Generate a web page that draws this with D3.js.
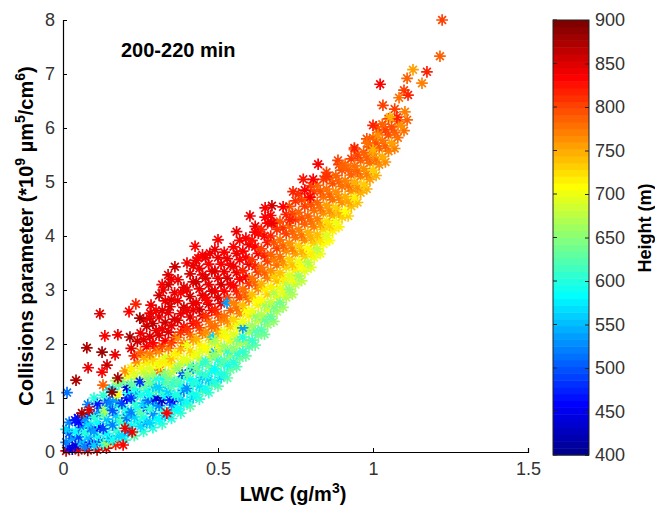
<!DOCTYPE html>
<html>
<head>
<meta charset="utf-8">
<script src="https://cdn.jsdelivr.net/npm/d3@7"></script>
<style>
  body { margin: 0; background: #fff; }
  text { font-family: "Liberation Sans", Arial, sans-serif; }
</style>
</head>
<body>
<div id="viz"></div>
<script>
const width = 655;
const height = 519;
const margin = {top: 20, right: 127, bottom: 67, left: 63};

const xTicks = [0, 0.5, 1, 1.5];
const yTicks = [0, 1, 2, 3, 4, 5, 6, 7, 8];
const heightTicks = [400, 450, 500, 550, 600, 650, 700, 750, 800, 850, 900];
const title = '200-220 min';

// [LWC (g/m3), collisions parameter, height (m)]
const nearOrigin = [
  [0.01,0.02,860],[0.02,0.08,470],[0.01,0.18,520],[0.03,0.25,540],[0.02,0.35,500],[0.01,0.42,560],[0.03,0.05,440],[0.02,0.55,520],
  [0.05,0.03,850],[0.04,0.12,440],[0.06,0.18,560],[0.05,0.28,490],[0.04,0.38,580],[0.06,0.45,520],[0.05,0.55,460],[0.048,0.63,440],[0.039,0.59,470],
  [0.08,0.03,860],[0.07,0.10,520],[0.09,0.18,470],[0.08,0.27,550],[0.07,0.36,600],[0.09,0.44,510],[0.08,0.52,570],[0.07,0.62,530],[0.09,0.70,480],[0.08,0.88,520],
  [0.11,0.04,850],[0.10,0.12,560],[0.12,0.20,500],[0.11,0.30,590],[0.10,0.38,540],[0.12,0.46,460],[0.11,0.55,580],[0.10,0.64,610],[0.12,0.72,530],[0.119,0.81,520],[0.11,0.90,470],[0.10,1.00,600],
  [0.14,0.07,860],[0.13,0.15,600],[0.142,0.17,650],[0.15,0.25,540],[0.14,0.34,580],[0.13,0.43,490],[0.15,0.52,600],[0.14,0.61,550],[0.13,0.70,620],[0.135,0.78,670],[0.15,0.85,560],[0.14,0.95,500],[0.152,0.93,520],[0.13,1.05,610],[0.15,1.15,580]
];

const lowBand = [
  [0.17,0.14,820],[0.16,0.22,590],[0.18,0.30,560],[0.17,0.40,610],[0.16,0.50,520],[0.18,0.58,590],[0.17,0.68,560],[0.16,0.77,500],[0.18,0.86,600],[0.17,0.96,540],[0.177,1.06,700],[0.16,1.16,560],[0.18,1.25,620],[0.17,1.32,660],
  [0.20,0.22,600],[0.19,0.30,570],[0.21,0.38,540],[0.20,0.52,590],[0.19,0.60,620],[0.206,0.63,510],[0.21,0.72,560],[0.20,0.80,600],[0.19,0.90,490],[0.206,1.00,450],[0.21,1.10,580],[0.206,1.20,440],[0.19,1.30,640],[0.21,1.40,700],[0.20,1.50,760],
  [0.23,0.30,620],[0.22,0.48,580],[0.24,0.56,600],[0.23,0.65,560],[0.22,0.74,520],[0.24,0.82,590],[0.23,0.91,610],[0.22,1.00,480],[0.24,1.08,540],[0.23,1.17,600],[0.22,1.26,630],[0.24,1.35,660],[0.23,1.45,690],[0.22,1.55,720],[0.24,1.65,760],[0.23,1.78,820],[0.22,1.92,850],[0.24,2.05,860],
  [0.26,0.38,610],[0.25,0.47,570],[0.27,0.55,540],[0.26,0.64,590],[0.25,0.73,620],[0.27,0.82,500],[0.26,0.90,560],[0.274,0.96,510],[0.25,1.05,600],[0.27,1.14,580],[0.26,1.22,630],[0.248,1.30,480],[0.27,1.38,650],[0.26,1.47,680],[0.25,1.56,700],[0.27,1.65,720],[0.26,1.75,750],[0.25,1.85,790],[0.27,1.95,830],[0.26,2.08,850],[0.25,2.20,840],[0.27,2.33,860],[0.26,2.45,845],
  [0.29,0.45,600],[0.28,0.54,560],[0.30,0.62,590],[0.29,0.71,530],[0.28,0.80,610],[0.30,0.88,570],[0.29,0.97,500],[0.30,1.00,440],[0.28,1.06,590],[0.30,1.14,620],[0.29,1.22,560],[0.281,1.28,640],[0.30,1.36,600],[0.29,1.45,660],[0.28,1.54,690],[0.30,1.62,710],[0.29,1.72,730],[0.28,1.82,770],[0.30,1.92,800],[0.29,2.02,830],[0.28,2.14,850],[0.30,2.25,840],[0.29,2.38,865],[0.28,2.48,850],[0.30,2.62,835],
  [0.32,0.52,610],[0.31,0.60,580],[0.33,0.68,550],[0.32,0.77,600],[0.31,0.86,520],[0.319,0.96,430],[0.33,1.04,580],[0.32,1.12,610],[0.31,1.20,560],[0.33,1.28,620],[0.32,1.37,590],[0.313,1.52,780],[0.33,1.46,650],[0.31,1.60,700],[0.32,1.68,720],[0.33,1.76,690],[0.31,1.86,760],[0.32,1.96,800],[0.33,2.06,830],[0.31,2.16,850],[0.32,2.28,840],[0.33,2.40,860],[0.31,2.50,845],[0.32,2.62,850],[0.33,2.80,840],[0.31,2.90,855],[0.32,3.10,835],
  [0.35,0.62,600],[0.34,0.70,570],[0.36,0.78,610],[0.35,0.87,540],[0.345,0.96,480],[0.36,0.98,450],[0.36,1.05,590],[0.34,1.13,560],[0.35,1.21,620],[0.36,1.30,600],[0.34,1.38,640],[0.35,1.47,670],[0.36,1.56,700],[0.34,1.64,720],[0.35,1.73,740],[0.36,1.82,710],[0.34,1.92,770],[0.35,2.02,800],[0.36,2.12,820],[0.34,2.22,850],[0.35,2.34,840],[0.36,2.46,860],[0.34,2.58,845],[0.35,2.82,850],[0.36,2.95,840],[0.34,3.10,855],[0.35,3.20,845],
  [0.38,0.72,610],[0.37,0.80,580],[0.39,0.88,600],[0.38,0.97,550],[0.37,1.06,600],[0.39,1.14,520],[0.38,1.22,590],[0.368,1.30,620],[0.39,1.38,610],[0.384,1.46,500],[0.37,1.55,650],[0.38,1.64,680],[0.39,1.72,700],[0.37,1.82,720],[0.38,1.92,750],[0.39,2.02,780],[0.37,2.12,760],[0.38,2.22,810],[0.39,2.32,830],[0.37,2.44,850],[0.38,2.56,840],[0.39,2.68,860],[0.37,2.80,845],[0.38,2.95,835],[0.39,3.05,850],
  [0.41,0.85,620],[0.40,0.93,590],[0.42,1.01,560],[0.41,1.10,600],[0.40,1.18,530],[0.42,1.26,610],[0.41,1.35,580],[0.40,1.44,630],[0.42,1.52,660],[0.42,1.55,520],[0.41,1.61,620],[0.40,1.70,690],[0.42,1.79,710],[0.41,1.88,730],[0.40,1.98,700],[0.42,2.08,760],[0.41,2.18,790],[0.40,2.28,810],[0.42,2.38,830],[0.41,2.50,850],[0.40,2.62,840],[0.42,2.75,850],[0.41,2.88,860],[0.40,3.00,845],[0.42,3.15,840],[0.41,3.30,850],[0.42,3.45,845],
  [0.44,0.98,610],[0.43,1.06,590],[0.45,1.14,620],[0.44,1.22,570],[0.43,1.30,600],[0.45,1.38,550],[0.44,1.47,610],[0.43,1.56,640],[0.45,1.64,600],[0.44,1.73,670],[0.43,1.82,700],[0.45,1.90,690],[0.44,2.00,720],[0.43,2.10,750],[0.45,2.20,780],[0.44,2.30,800],[0.43,2.40,820],[0.45,2.52,840],[0.44,2.64,855],[0.43,2.76,845],[0.45,2.90,850],[0.44,3.02,840],[0.43,3.15,855],[0.45,3.28,845],[0.44,3.40,840],[0.43,3.55,850],[0.45,3.65,835]
];

const midBand = [
  [0.47,1.10,610],[0.46,1.18,590],[0.48,1.26,620],[0.47,1.34,560],[0.46,1.42,610],[0.48,1.50,580],[0.47,1.59,640],[0.46,1.68,610],[0.48,1.76,660],[0.47,1.85,690],[0.49,1.85,550],[0.46,1.94,710],[0.48,2.03,680],[0.47,2.12,730],[0.484,2.13,560],[0.46,2.22,760],[0.48,2.32,790],[0.47,2.42,780],[0.46,2.52,810],[0.48,2.62,830],[0.47,2.74,850],[0.46,2.86,840],[0.48,2.98,855],[0.47,3.10,845],[0.46,3.22,850],[0.48,3.35,840],[0.47,3.48,835],[0.46,3.60,845],
  [0.50,1.22,620],[0.49,1.30,600],[0.51,1.38,570],[0.50,1.46,610],[0.49,1.54,580],[0.51,1.62,630],[0.50,1.71,600],[0.49,1.80,650],[0.51,1.88,680],[0.50,1.97,700],[0.49,2.06,670],[0.51,2.15,720],[0.50,2.24,750],[0.49,2.34,780],[0.51,2.44,770],[0.50,2.54,800],[0.49,2.64,820],[0.51,2.75,840],[0.50,2.86,850],[0.49,2.98,845],[0.51,3.10,855],[0.50,3.22,840],[0.49,3.35,850],[0.51,3.48,835],[0.50,3.60,845],[0.49,3.75,840],
  [0.53,1.37,620],[0.52,1.45,600],[0.54,1.53,630],[0.53,1.62,590],[0.52,1.70,620],[0.54,1.78,650],[0.53,1.87,610],[0.52,1.96,660],[0.54,2.05,690],[0.53,2.14,710],[0.52,2.23,700],[0.54,2.32,730],[0.53,2.42,760],[0.52,2.52,780],[0.54,2.62,790],[0.53,2.86,800],[0.529,2.76,540],[0.52,2.98,830],[0.54,3.10,840],[0.53,3.22,850],[0.52,3.34,840],[0.54,3.46,830],[0.53,3.58,845],[0.52,3.70,835],
  [0.56,1.58,620],[0.55,1.66,600],[0.57,1.74,630],[0.56,1.83,610],[0.55,1.92,650],[0.57,2.00,670],[0.56,2.09,640],[0.55,2.18,690],[0.57,2.27,710],[0.56,2.36,700],[0.55,2.46,730],[0.57,2.56,760],[0.56,2.66,780],[0.55,2.76,770],[0.57,2.86,800],[0.56,2.97,820],[0.55,3.08,835],[0.57,3.20,830],[0.56,3.32,845],[0.55,3.44,840],[0.57,3.56,835],[0.56,3.68,840],[0.55,3.80,830],[0.57,3.92,835],[0.56,4.08,840],
  [0.59,1.78,630],[0.58,1.86,610],[0.60,1.95,620],[0.59,2.04,650],[0.58,2.13,600],[0.60,2.22,660],[0.59,2.32,680],[0.58,2.30,540],[0.58,2.42,700],[0.60,2.52,720],[0.59,2.62,710],[0.58,2.72,740],[0.60,2.82,770],[0.59,2.92,790],[0.58,3.02,780],[0.60,3.12,810],[0.59,3.24,830],[0.58,3.36,820],[0.60,3.48,840],[0.59,3.60,835],[0.58,3.72,830],[0.60,3.84,840],[0.59,3.96,835],
  [0.62,1.98,630],[0.61,2.07,610],[0.63,2.16,640],[0.62,2.25,620],[0.61,2.34,660],[0.63,2.43,680],[0.62,2.52,650],[0.61,2.62,700],[0.63,2.72,720],[0.62,2.82,710],[0.61,2.92,740],[0.63,3.02,760],[0.62,3.12,790],[0.61,3.22,780],[0.63,3.33,800],[0.62,3.44,820],[0.61,3.56,810],[0.63,3.68,830],[0.62,3.80,835],[0.61,3.92,825],[0.63,4.05,830],[0.62,4.18,840],
  [0.65,2.18,640],[0.64,2.27,620],[0.66,2.36,650],[0.65,2.45,630],[0.64,2.54,670],[0.66,2.63,690],[0.65,2.72,660],[0.64,2.82,710],[0.66,2.92,730],[0.65,3.02,720],[0.64,3.12,750],[0.66,3.22,770],[0.65,3.32,790],[0.64,3.42,780],[0.66,3.53,800],[0.65,3.64,815],[0.64,3.76,805],[0.66,3.88,825],[0.65,4.00,830],[0.64,4.12,820],[0.66,4.24,835],
  [0.68,2.42,650],[0.67,2.51,630],[0.69,2.60,660],[0.68,2.69,640],[0.67,2.78,680],[0.69,2.87,700],[0.68,2.96,670],[0.67,3.06,720],[0.69,3.16,740],[0.68,3.26,730],[0.67,3.36,760],[0.69,3.46,780],[0.68,3.56,770],[0.67,3.66,790],[0.69,3.77,805],[0.68,3.88,795],[0.67,4.00,815],[0.69,4.12,810],[0.68,4.24,820],[0.67,4.38,830],
  [0.71,2.68,660],[0.70,2.77,640],[0.72,2.86,670],[0.71,2.95,690],[0.70,3.04,700],[0.72,3.13,680],[0.71,3.22,720],[0.70,3.32,740],[0.72,3.42,730],[0.71,3.52,760],[0.70,3.62,775],[0.72,3.72,765],[0.71,3.82,790],[0.70,3.93,780],[0.72,4.04,800],[0.71,4.15,810],[0.70,4.27,795],[0.72,4.40,815]
];

const upperBand = [
  [0.74,2.92,670],[0.73,3.01,650],[0.75,3.10,680],[0.74,3.19,700],[0.73,3.28,690],[0.75,3.37,720],[0.74,3.47,740],[0.73,3.57,730],[0.75,3.67,755],[0.74,3.77,770],[0.73,3.87,760],[0.75,3.97,780],[0.74,4.08,790],[0.73,4.19,785],[0.75,4.30,800],[0.74,4.42,805],[0.73,4.55,795],[0.75,4.65,810],
  [0.77,3.17,680],[0.76,3.26,660],[0.78,3.35,690],[0.77,3.44,710],[0.76,3.53,700],[0.78,3.62,730],[0.77,3.72,745],[0.76,3.82,735],[0.78,3.92,760],[0.77,4.02,775],[0.76,4.12,770],[0.78,4.22,785],[0.77,4.33,795],[0.76,4.44,785],[0.78,4.55,800],[0.77,4.67,800],[0.76,4.78,810],
  [0.80,3.42,690],[0.79,3.51,670],[0.81,3.60,700],[0.80,3.69,720],[0.79,3.78,710],[0.81,3.87,735],[0.80,3.97,750],[0.79,4.07,745],[0.81,4.17,770],[0.80,4.27,780],[0.79,4.37,790],[0.81,4.47,775],[0.80,4.58,795],[0.79,4.70,790],[0.81,4.82,800],[0.80,4.93,805],
  [0.83,3.67,700],[0.82,3.76,680],[0.84,3.85,710],[0.83,3.94,725],[0.82,4.03,740],[0.84,4.12,730],[0.83,4.22,755],[0.82,4.32,770],[0.84,4.42,765],[0.83,4.52,780],[0.82,4.62,790],[0.84,4.72,780],[0.83,4.83,795],[0.82,4.94,790],[0.84,5.05,800],
  [0.86,3.92,710],[0.85,4.01,690],[0.87,4.10,720],[0.86,4.19,735],[0.85,4.28,725],[0.87,4.37,750],[0.86,4.47,765],[0.85,4.57,755],[0.87,4.67,775],[0.86,4.77,785],[0.85,4.87,780],[0.87,4.97,795],[0.86,5.08,790],[0.85,5.18,800],
  [0.89,4.17,720],[0.88,4.26,700],[0.90,4.35,730],[0.89,4.44,745],[0.88,4.53,735],[0.90,4.62,760],[0.89,4.72,770],[0.88,4.82,765],[0.90,4.92,780],[0.89,5.02,790],[0.88,5.12,785],[0.90,5.22,795],[0.89,5.32,800],
  [0.92,4.37,730],[0.91,4.46,710],[0.93,4.55,740],[0.92,4.64,755],[0.91,4.73,745],[0.93,4.83,765],[0.92,4.93,775],[0.91,5.03,770],[0.93,5.13,785],[0.92,5.23,790],[0.91,5.33,780],[0.93,5.43,800],
  [0.95,4.62,740],[0.94,4.71,720],[0.96,4.80,745],[0.95,4.90,760],[0.94,5.00,750],[0.96,5.10,770],[0.95,5.20,785],[0.94,5.30,775],[0.96,5.40,790],[0.95,5.50,800],[0.94,5.60,790],
  [0.98,4.87,745],[0.97,4.96,730],[0.99,5.05,755],[0.98,5.15,770],[0.97,5.25,760],[0.99,5.35,780],[0.98,5.45,790],[0.97,5.55,785],[0.99,5.65,800],[0.98,5.80,795],
  [1.01,5.12,750],[1.00,5.22,735],[1.02,5.32,760],[1.01,5.42,775],[1.00,5.52,765],[1.02,5.62,785],[1.01,5.72,795],[1.00,5.82,790],[1.02,5.92,805],[1.01,6.02,795],
  [1.04,5.37,760],[1.03,5.47,745],[1.05,5.57,770],[1.04,5.67,785],[1.03,5.77,775],[1.05,5.87,795],[1.04,5.97,805],[1.03,6.07,790],[1.05,6.17,800],
  [1.07,5.62,770],[1.06,5.72,755],[1.08,5.82,780],[1.07,5.92,790],[1.06,6.02,795],[1.08,6.12,785],[1.07,6.35,800],
  [1.10,5.95,775],[1.09,6.05,760],[1.11,6.15,790]
];

const redOutliers = [
  [0.119,2.56,850],[0.077,1.93,875],[0.126,1.85,880],[0.081,1.56,845],[0.042,1.33,870],[0.013,1.10,510],[0.142,1.61,860],[0.126,1.48,830],
  [0.177,2.17,840],[0.135,2.15,830],[0.168,1.80,845],[0.177,1.37,870],[0.158,1.11,885],[0.129,1.24,790],[0.084,0.78,850],[0.061,0.72,875],
  [0.216,2.13,875],[0.248,2.48,870],[0.213,2.60,835],[0.235,2.74,820],[0.284,2.72,840],[0.281,2.57,845],[0.345,2.69,850],[0.42,2.63,840],
  [0.464,2.81,835],[0.323,3.00,840],[0.371,3.19,845],[0.339,3.28,850],[0.361,3.43,855],[0.40,3.50,840],[0.436,3.59,835],[0.474,3.68,840],
  [0.426,3.81,835],[0.50,3.93,835],[0.20,0.44,840],[0.223,0.37,845],[0.194,0.13,830],[0.335,0.72,830],
  [0.823,5.33,830],[0.775,5.05,825],[0.807,5.05,830],[0.85,5.10,810],[0.742,4.82,820],[0.78,4.85,835],[0.797,4.72,830],[0.674,4.56,860],
  [0.71,4.54,830],[0.652,4.52,835],[0.603,4.37,840],[0.652,4.35,835],[0.732,4.30,815],[0.674,4.24,840],[0.619,4.07,835],[0.887,5.40,805],[0.90,5.30,785]
];

const tipOutliers = [
  [1.223,8.00,805],[1.216,7.33,790],[1.174,7.04,815],[1.129,7.08,755],[1.11,6.92,785],[1.158,6.83,770],[1.023,6.81,830],[1.10,6.70,805],
  [1.113,6.61,820],[1.084,6.56,780],[1.032,6.42,805],[1.103,6.30,770],[1.077,6.20,820],[1.055,6.20,750],[1.00,6.05,815],[1.016,5.87,765],
  [0.98,5.72,775],[0.94,5.63,820],[1.00,5.60,745]
];

const points = [...nearOrigin, ...lowBand, ...midBand, ...upperBand, ...redOutliers, ...tipOutliers];

// MATLAB-style jet colormap with 64 levels
const jetLevels = 64;
const clamp = v => Math.max(0, Math.min(1, v));
const jetColor = i => {
  const t = (i + 1) / jetLevels;
  const r = clamp(Math.min(4 * t - 1.5, -4 * t + 4.5));
  const g = clamp(Math.min(4 * t - 0.5, -4 * t + 3.5));
  const b = clamp(Math.min(4 * t + 0.5, -4 * t + 2.5));
  return d3.rgb(r * 255, g * 255, b * 255).formatHex();
};
const levelScale = d3.scaleQuantize()
  .domain([400, 900])
  .range(d3.range(jetLevels));

const xScale = d3.scaleLinear().domain([0, 1.5]).range([63, 528]);
const yScale = d3.scaleLinear().domain([0, 8]).range([452, 20]);
const cbScale = d3.scaleLinear().domain([400, 900]).range([455, 20]);

const svg = d3.select('#viz')
  .append('svg')
    .attr('width', width)
    .attr('height', height)
    .attr('viewBox', [0, 0, width, height]);

// 8-armed asterisk marker
const asterisk = (() => {
  const p = d3.path();
  const r = 5.8, q = 3.9;
  p.moveTo(-r, 0); p.lineTo(r, 0);
  p.moveTo(0, -r); p.lineTo(0, r);
  p.moveTo(-q, -q); p.lineTo(q, q);
  p.moveTo(-q, q); p.lineTo(q, -q);
  return p.toString();
})();

svg.append('g')
    .attr('class', 'points')
  .selectAll('path')
  .data(points)
  .join('path')
    .attr('d', asterisk)
    .attr('transform', d => `translate(${xScale(d[0])},${yScale(d[1])})`)
    .attr('fill', 'none')
    .attr('stroke', d => jetColor(levelScale(d[2])))
    .attr('stroke-width', 1.7);

// axes (MATLAB style inward ticks, no box)
const xAxis = d3.axisBottom(xScale)
  .tickValues(xTicks)
  .tickSize(-4)
  .tickPadding(10)
  .tickFormat(d3.format('~g'));
const xAxisGroup = svg.append('g')
  .attr('transform', 'translate(0,452)')
  .call(xAxis);

const yAxis = d3.axisLeft(yScale)
  .tickValues(yTicks)
  .tickSize(-4)
  .tickPadding(8);
const yAxisGroup = svg.append('g')
  .attr('transform', 'translate(63,0)')
  .call(yAxis);

[xAxisGroup, yAxisGroup].forEach(g => {
  g.select('.domain').attr('stroke', '#000').attr('stroke-width', 1.2);
  g.selectAll('.tick line').attr('stroke', '#000');
  g.selectAll('.tick text')
    .attr('fill', '#333')
    .style('font-size', '18px')
    .style('font-family', '"Liberation Sans", Arial, sans-serif');
});

// title inside the plot
svg.append('text')
  .attr('x', 121)
  .attr('y', 57)
  .style('font-size', '20px')
  .style('font-weight', 'bold')
  .text(title);

// x label
const xLabel = svg.append('text')
  .attr('x', 293)
  .attr('y', 501)
  .attr('text-anchor', 'middle')
  .style('font-size', '20px')
  .style('font-weight', 'bold');
xLabel.append('tspan').text('LWC (g/m');
xLabel.append('tspan').attr('dy', -8).style('font-size', '14px').text('3');
xLabel.append('tspan').attr('dy', 8).text(')');

// y label
const yLabel = svg.append('text')
  .attr('transform', 'translate(33,236) rotate(-90)')
  .attr('text-anchor', 'middle')
  .style('font-size', '20px')
  .style('font-weight', 'bold');
yLabel.append('tspan').text('Collisions parameter (*10');
yLabel.append('tspan').attr('dy', -8).style('font-size', '14px').text('9');
yLabel.append('tspan').attr('dy', 8).text(' \u00b5m');
yLabel.append('tspan').attr('dy', -8).style('font-size', '14px').text('5');
yLabel.append('tspan').attr('dy', 8).text('/cm');
yLabel.append('tspan').attr('dy', -8).style('font-size', '14px').text('6');
yLabel.append('tspan').attr('dy', 8).text(')');

// colorbar
const cbX = 553, cbW = 36;
const cbStep = 500 / jetLevels;
svg.append('g')
    .attr('class', 'colorbar')
  .selectAll('rect')
  .data(d3.range(jetLevels))
  .join('rect')
    .attr('x', cbX)
    .attr('y', i => cbScale(400 + (i + 1) * cbStep))
    .attr('width', cbW)
    .attr('height', i => cbScale(400 + i * cbStep) - cbScale(400 + (i + 1) * cbStep) + 0.5)
    .attr('fill', i => jetColor(i));

svg.append('rect')
  .attr('x', cbX)
  .attr('y', cbScale(900))
  .attr('width', cbW)
  .attr('height', cbScale(400) - cbScale(900))
  .attr('fill', 'none')
  .attr('stroke', '#222')
  .attr('stroke-width', 1);

const cbAxis = d3.axisRight(cbScale)
  .tickValues(heightTicks)
  .tickSize(-4)
  .tickPadding(6);
const cbAxisGroup = svg.append('g')
  .attr('transform', `translate(${cbX + cbW},0)`)
  .call(cbAxis);
cbAxisGroup.select('.domain').remove();
cbAxisGroup.selectAll('.tick line').attr('stroke', '#222');
cbAxisGroup.selectAll('.tick text')
  .attr('fill', '#333')
  .style('font-size', '18px')
  .style('font-family', '"Liberation Sans", Arial, sans-serif');
// left-side ticks of the colorbar
svg.append('g')
  .selectAll('line')
  .data(heightTicks)
  .join('line')
    .attr('x1', cbX)
    .attr('x2', cbX + 4)
    .attr('y1', d => cbScale(d))
    .attr('y2', d => cbScale(d))
    .attr('stroke', '#222');

svg.append('text')
  .attr('transform', 'translate(651,228) rotate(-90)')
  .attr('text-anchor', 'middle')
  .style('font-size', '18px')
  .style('font-weight', 'bold')
  .text('Height (m)');
</script>
</body>
</html>
